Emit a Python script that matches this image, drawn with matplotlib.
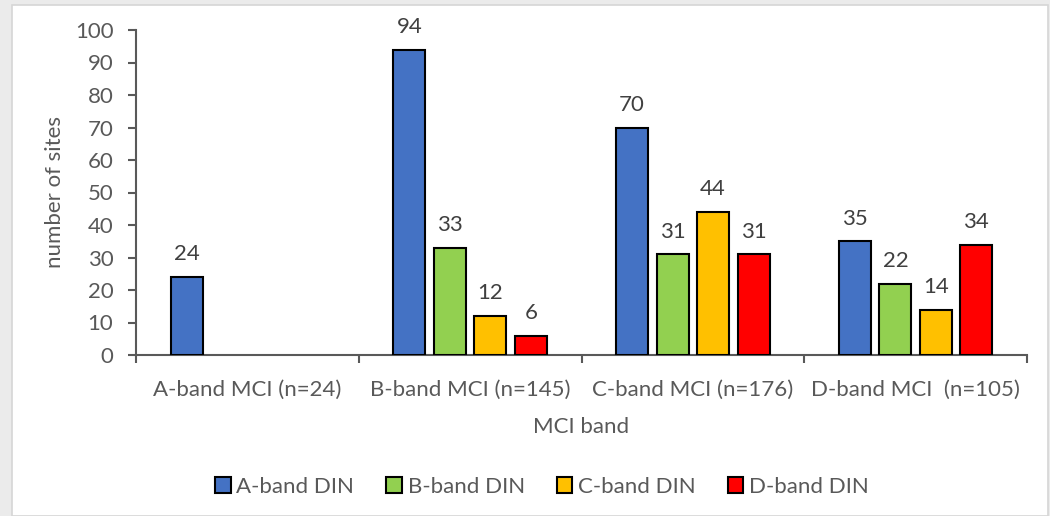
import matplotlib.pyplot as plt
from matplotlib.patches import Rectangle
import numpy as np

groups = ["A-band MCI (n=24)", "B-band MCI (n=145)", "C-band MCI (n=176)", "D-band MCI  (n=105)"]
series = ["A-band DIN", "B-band DIN", "C-band DIN", "D-band DIN"]
a_din = [24, 94, 70, 35]
b_din = [None, 33, 31, 22]
c_din = [None, 12, 44, 14]
d_din = [None, 6, 31, 34]
colors = ["#4472C4", "#92D050", "#FFC000", "#FF0000"]

plt.rcParams['font.family'] = ['Lato', 'DejaVu Sans']
txt = "#595959"
fs = 16

fig = plt.figure(figsize=(10.5, 5.16), dpi=100)
fig.patch.set_facecolor("#ebebeb")
# witte grafiekzone met dunne grijze rand
bg = Rectangle((12/1050, 0), (1048-12)/1050, 1-5/516, transform=fig.transFigure,
               facecolor="white", edgecolor="#d6d6d6", lw=1.2, zorder=-10)
fig.add_artist(bg)

ax = fig.add_axes([136/1050, 1-355/516, (1027-136)/1050, (355-30)/516])
ax.set_facecolor("none")
ax.set_zorder(1)

x = np.arange(len(groups))
step = 40.5/222.75
width = 32/222.75
for i, (vals, col, name) in enumerate(zip([a_din, b_din, c_din, d_din], colors, series)):
    xs = [xx + (i-1.5)*step for xx, v in zip(x, vals) if v is not None]
    vs = [v for v in vals if v is not None]
    bars = ax.bar(xs, vs, width, color=col, edgecolor="black", lw=1.5, label=name, zorder=3)
    for b, v in zip(bars, vs):
        ax.annotate(str(v), (b.get_x()+b.get_width()/2, v), xytext=(0, 12),
                    textcoords="offset points", ha="center", va="baseline",
                    fontsize=fs, color="#404040")

ax.set_xlim(-0.5, 3.5)
ax.set_ylim(0, 100)
ax.set_yticks(range(0, 101, 10))
ax.set_xticks(x)
ax.set_xticklabels(groups)
ax.set_xticks(np.arange(-0.5, 4, 1), minor=True)
ax.tick_params(axis="x", which="major", length=0, pad=18, labelsize=fs, labelcolor=txt)
ax.tick_params(axis="x", which="minor", length=5.8, width=1.5, color="#595959")
ax.tick_params(axis="y", length=5.8, width=1.5, color="#595959", labelsize=fs, labelcolor=txt, pad=10.5)
for s in ["top", "right"]:
    ax.spines[s].set_visible(False)
for s in ["left", "bottom"]:
    ax.spines[s].set_color("#595959")
    ax.spines[s].set_linewidth(1.5)

ax.set_xlabel("MCI band", fontsize=fs, color=txt, labelpad=12)
ax.set_ylabel("number of sites", fontsize=fs, color=txt, labelpad=7)

leg = fig.legend(loc="center", bbox_to_anchor=(542/1050, 1-487/516), ncol=4, frameon=False,
                 fontsize=fs, handlelength=0.7, handleheight=0.7, handletextpad=0.25,
                 columnspacing=1.45)
for t in leg.get_texts():
    t.set_color(txt)

fig.savefig("out.png", dpi=100, facecolor=fig.get_facecolor())
